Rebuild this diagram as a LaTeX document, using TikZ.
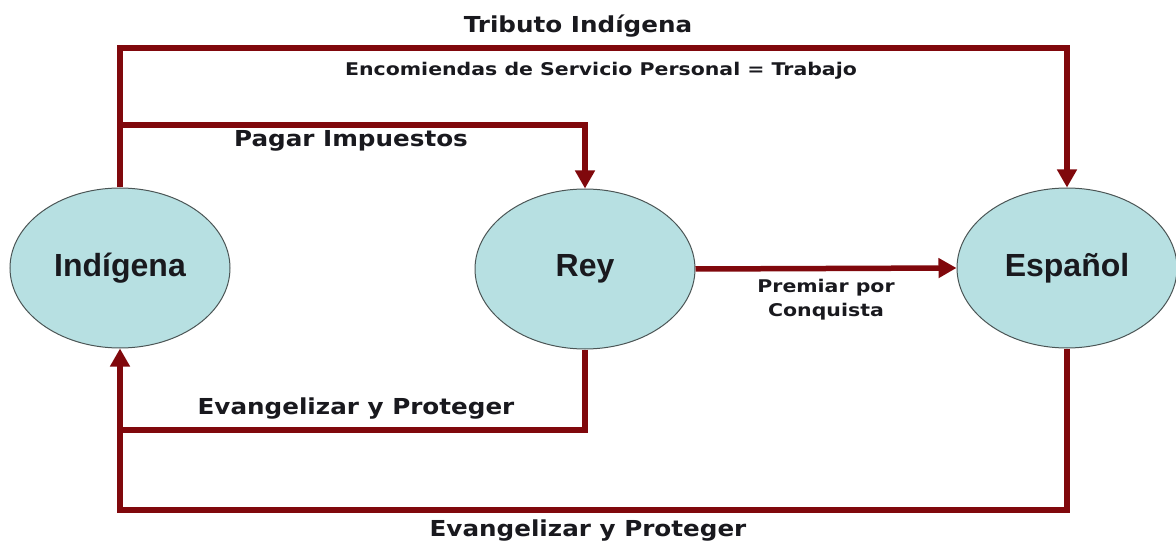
\documentclass[tikz,border=0pt]{standalone}
\usepackage{fontspec}
\usepackage{tikz}
\usetikzlibrary{positioning, arrows.meta, shapes.geometric}

\newfontfamily\labelfont[FakeStretch=1.12]{DejaVu Sans}
\newfontfamily\smallfont[FakeStretch=1.17]{DejaVu Sans}
\newfontfamily\bubblefont{Liberation Sans}

\definecolor{flowred}{RGB}{128,8,12}
\definecolor{bubble}{RGB}{183,224,226}
\definecolor{rim}{RGB}{75,85,85}
\definecolor{ink}{RGB}{25,25,30}

\begin{document}
\begin{tikzpicture}[x=1pt, y=-1pt, >={Triangle[length=18pt,width=19pt]},
    every node/.style={text=ink},
    actor/.style={draw=rim, line width=1pt, fill=bubble, ellipse, minimum width=220pt, minimum height=160pt, inner sep=0pt, font=\bubblefont\bfseries\fontsize{32}{36}\selectfont},
    flow/.style={draw=flowred, line width=5.5pt},
    big/.style={font=\labelfont\bfseries\fontsize{22}{26}\selectfont},
    small/.style={font=\smallfont\bfseries\fontsize{17.5}{24}\selectfont, align=center}]
    \useasboundingbox (0,0) rectangle (1176,548);

    \node[actor] (ind) at (120,268) {Indígena};
    \node[actor] (rey) at (585,269) {Rey};
    \node[actor] (esp) at (1067,268) {Español};

    \coordinate (topy) at (0,48);
    \coordinate (midy) at (0,125);
    \coordinate (lowy) at (0,430);
    \coordinate (boty) at (0,510);

    \draw[flow, ->] (ind.north) -- (ind.north |- topy) -| (esp.north);
    \draw[flow, ->] (ind.north |- midy) -| (rey.north);
    \draw[flow, ->] (rey.east) -- (esp.west);
    \draw[flow, ->] (rey.south) -- (rey.south |- lowy) -| (ind.south);
    \draw[flow] (esp.south) -- (esp.south |- boty) -| (ind.south |- lowy);

    \node[big] (tributo) at (578,26) {Tributo Indígena};
    \node[small] (encom) at (601,71) {Encomiendas de Servicio Personal = Trabajo};
    \node[big] (pagar) at (351,141) {Pagar Impuestos};
    \node[small] (premiar) at (826,300) {Premiar por\\Conquista};
    \node[big] (evang1) at (356,409) {Evangelizar y Proteger};
    \node[big] (evang2) at (588,531) {Evangelizar y Proteger};
\end{tikzpicture}
\end{document}
